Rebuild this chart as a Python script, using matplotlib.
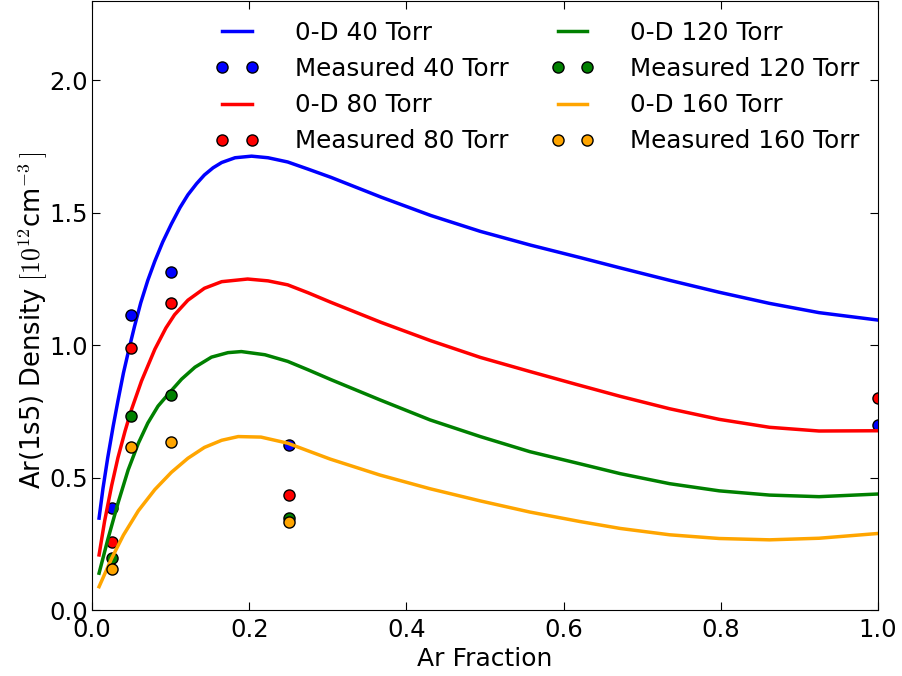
import numpy as np
import matplotlib
matplotlib.use("Agg")
from matplotlib import pyplot as plt

plt.rcParams['mathtext.fontset'] = 'cm'
plt.rcParams['font.family'] = ['DejaVu Sans']

# 0-D model curves
f_40 = [0.009, 0.014, 0.020, 0.027, 0.033, 0.040, 0.047, 0.054, 0.062, 0.071, 0.080, 0.090,
        0.101, 0.112, 0.122, 0.133, 0.143, 0.154, 0.165, 0.182, 0.203, 0.224, 0.249, 0.275,
        0.304, 0.368, 0.431, 0.494, 0.558, 0.621, 0.672, 0.735, 0.798, 0.862, 0.925, 1.0]
n_40 = [0.347, 0.460, 0.575, 0.695, 0.790, 0.895, 0.985, 1.070, 1.160, 1.245, 1.318, 1.390,
        1.458, 1.520, 1.568, 1.610, 1.643, 1.670, 1.690, 1.708, 1.714, 1.708, 1.692, 1.665,
        1.634, 1.559, 1.490, 1.430, 1.378, 1.331, 1.292, 1.245, 1.200, 1.158, 1.123, 1.095]

f_80 = [0.009, 0.016, 0.025, 0.033, 0.042, 0.050, 0.063, 0.080, 0.094, 0.105, 0.122, 0.143,
        0.165, 0.198, 0.224, 0.249, 0.275, 0.304, 0.368, 0.431, 0.494, 0.558, 0.615, 0.672,
        0.735, 0.798, 0.862, 0.925, 1.0]
n_80 = [0.208, 0.335, 0.470, 0.575, 0.675, 0.755, 0.865, 0.985, 1.065, 1.115, 1.170, 1.215,
        1.240, 1.250, 1.243, 1.228, 1.198, 1.162, 1.086, 1.017, 0.954, 0.900, 0.853, 0.807,
        0.760, 0.720, 0.690, 0.676, 0.677]

f_120 = [0.009, 0.020, 0.033, 0.046, 0.059, 0.071, 0.084, 0.099, 0.114, 0.131, 0.152, 0.173,
         0.190, 0.220, 0.249, 0.275, 0.304, 0.366, 0.430, 0.494, 0.557, 0.621, 0.672, 0.735,
         0.798, 0.862, 0.925, 1.0]
n_120 = [0.139, 0.265, 0.403, 0.529, 0.630, 0.706, 0.770, 0.822, 0.872, 0.917, 0.955, 0.972,
         0.976, 0.964, 0.939, 0.907, 0.870, 0.794, 0.718, 0.655, 0.598, 0.552, 0.515, 0.477,
         0.450, 0.434, 0.428, 0.438]

f_160 = [0.009, 0.025, 0.040, 0.059, 0.080, 0.101, 0.122, 0.143, 0.165, 0.186, 0.215, 0.249,
         0.275, 0.303, 0.366, 0.430, 0.494, 0.557, 0.621, 0.672, 0.735, 0.798, 0.862, 0.925, 1.0]
n_160 = [0.088, 0.195, 0.283, 0.375, 0.455, 0.520, 0.573, 0.614, 0.641, 0.655, 0.653, 0.630,
         0.601, 0.570, 0.510, 0.458, 0.412, 0.370, 0.334, 0.308, 0.284, 0.270, 0.265, 0.271, 0.289]

# measured points
xm = [0.025, 0.05, 0.1, 0.25, 1.0]
m_40 = [0.387, 1.116, 1.275, 0.623, 0.70]
m_80 = [0.258, 0.99, 1.158, 0.434, 0.80]
xm2 = [0.025, 0.05, 0.1, 0.25]
m_120 = [0.195, 0.733, 0.813, 0.349]
m_160 = [0.154, 0.616, 0.633, 0.333]

fig = plt.figure(figsize=(9.02, 6.76), dpi=100)
ax = fig.add_axes([92/902, 1 - 610/676, 786/902, 609/676])

ax.plot(f_40, n_40, color='blue', lw=2.5, label='0-D 40 Torr')
ax.plot(xm, m_40, 'o', color='blue', mec='k', ms=8, label='Measured 40 Torr')
ax.plot(f_80, n_80, color='red', lw=2.5, label='0-D 80 Torr')
ax.plot(xm, m_80, 'o', color='red', mec='k', ms=8, label='Measured 80 Torr')
ax.plot(f_120, n_120, color='green', lw=2.5, label='0-D 120 Torr')
ax.plot(xm2, m_120, 'o', color='green', mec='k', ms=8, label='Measured 120 Torr')
ax.plot(f_160, n_160, color='orange', lw=2.5, label='0-D 160 Torr')
ax.plot(xm2, m_160, 'o', color='orange', mec='k', ms=8, label='Measured 160 Torr')

ax.set_xlim(0, 1.0)
ax.set_ylim(0, 2.3)
ax.set_xticks(np.arange(0, 1.01, 0.2))
ax.set_yticks(np.arange(0, 2.01, 0.5))
ax.tick_params(direction='in', top=True, right=True, length=6, labelsize=17.5)
ax.tick_params(axis='x', pad=6)
ax.tick_params(axis='y', pad=3)
ax.set_xlabel('Ar Fraction', fontsize=18, labelpad=3)
ax.set_ylabel('Ar(1s5) Density $[10^{12}$cm$^{-3}\\,]$', fontsize=18.5)
ax.yaxis.set_label_coords(-0.054, 0.475)

ax.legend(ncol=2, numpoints=2, frameon=False, fontsize=17.7, loc='upper left',
          bbox_to_anchor=(0.144, 0.984), borderaxespad=0, handlelength=1.8,
          handletextpad=1.45, columnspacing=1.7, labelspacing=0.5)

fig.savefig('out.png', dpi=100)
